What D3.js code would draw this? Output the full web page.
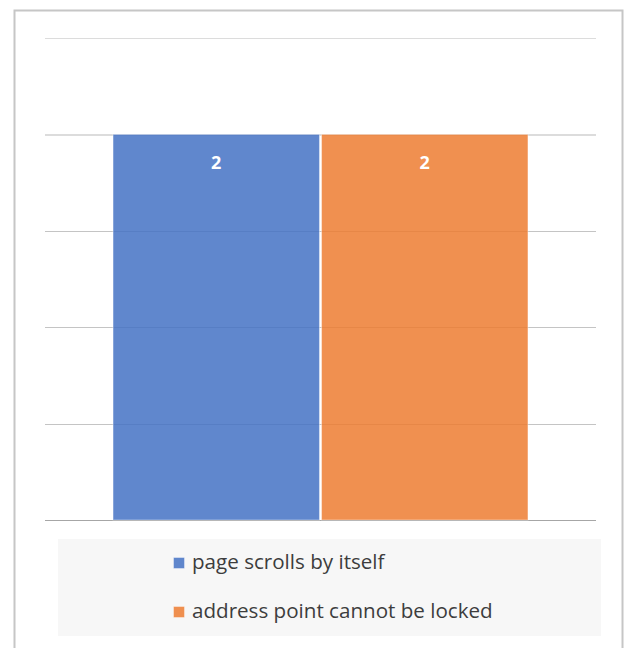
<!DOCTYPE html>
<html>
<head>
<meta charset="utf-8">
<script src="https://cdn.jsdelivr.net/npm/d3@7"></script>
<style>
  html, body { margin: 0; padding: 0; background: #fff; }
  svg { display: block; }
</style>
</head>
<body>
<svg id="chart" width="626" height="648"></svg>
<script>
// Issue counts per reported problem
const seriesNames = ["page scrolls by itself", "address point cannot be locked"];
const seriesValues = [2, 2];
const seriesColors = ["#4472C4", "#ED7D31"];
const yTicks = [0, 0.5, 1, 1.5, 2, 2.5];
const category = [""];

const svg = d3.select("#chart");
const plot = { left: 45, right: 596, top: 38, bottom: 520 };

// Outer frame
svg.append("rect")
  .attr("x", 14.5).attr("y", 10.5)
  .attr("width", 608).attr("height", 650)
  .attr("fill", "#fff")
  .attr("stroke", "#c6c6c6")
  .attr("stroke-width", 2);

const y = d3.scaleLinear().domain([0, 2.5]).range([plot.bottom, plot.top]);
const x0 = d3.scaleBand().domain(category).range([plot.left, plot.right])
  .paddingInner(0).paddingOuter(0.164);
const x1 = d3.scaleBand().domain(seriesNames).range([0, x0.bandwidth()])
  .paddingInner(0.01).paddingOuter(0);

// Horizontal gridlines
const grid = svg.append("g")
  .attr("transform", `translate(${plot.left},0)`)
  .call(d3.axisLeft(y).tickValues(yTicks).tickSize(-(plot.right - plot.left)).tickFormat(""));
grid.select(".domain").remove();
grid.selectAll(".tick line")
  .attr("stroke", d => d === 0 ? "#a6a6a6" : (d >= 2 ? "#dcdcdc" : "#c4c4c4"))
  .attr("stroke-width", d => d === 0 ? 1.5 : 1.2)
  .attr("shape-rendering", "crispEdges");

// Bars
const bars = svg.append("g")
  .attr("transform", `translate(${x0(category[0])},0)`);
bars.selectAll("rect")
  .data(seriesNames.map((n, i) => ({ name: n, value: seriesValues[i], color: seriesColors[i] })))
  .join("rect")
  .attr("x", d => x1(d.name))
  .attr("y", d => y(d.value))
  .attr("width", x1.bandwidth())
  .attr("height", d => y(0) - y(d.value))
  .attr("fill", d => d.color)
  .attr("fill-opacity", 0.85)
  .attr("stroke", "#ffffff")
  .attr("stroke-opacity", 0.4)
  .attr("stroke-width", 1);

// Value labels
bars.selectAll("text")
  .data(seriesNames.map((n, i) => ({ name: n, value: seriesValues[i] })))
  .join("text")
  .attr("x", d => x1(d.name) + x1.bandwidth() / 2)
  .attr("y", d => y(d.value) + 35)
  .attr("text-anchor", "middle")
  .attr("fill", "#fff")
  .attr("font-family", "'Open Sans', sans-serif")
  .attr("font-weight", "bold")
  .attr("font-size", 18)
  .text(d => d.value);

// Legend
const legend = svg.append("g");
legend.append("rect")
  .attr("x", 58).attr("y", 539)
  .attr("width", 543).attr("height", 97)
  .attr("fill", "#f7f7f7");
const items = legend.selectAll("g.item")
  .data(seriesNames.map((n, i) => ({ name: n, color: seriesColors[i] })))
  .join("g")
  .attr("class", "item")
  .attr("transform", (d, i) => `translate(173,${569 + i * 49})`);
items.append("rect")
  .attr("x", 0.5).attr("y", -11.5)
  .attr("width", 11).attr("height", 11)
  .attr("fill", d => d.color)
  .attr("fill-opacity", 0.85)
  .attr("stroke", "#fff")
  .attr("stroke-opacity", 0.4);
items.append("text")
  .attr("x", 19).attr("y", 0)
  .attr("fill", "#3d3d3d")
  .attr("font-family", "'Open Sans', sans-serif")
  .attr("font-size", 20.6)
  .text(d => d.name);
</script>
</body>
</html>
